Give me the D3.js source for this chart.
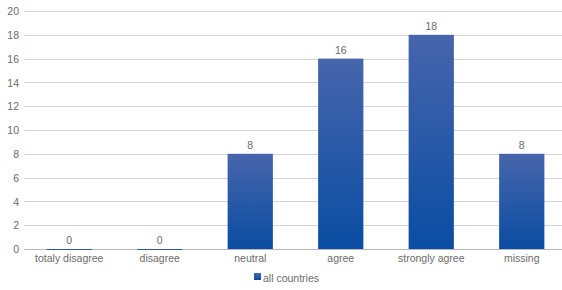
<!DOCTYPE html>
<html>
<head>
<meta charset="utf-8">
<script src="https://cdn.jsdelivr.net/npm/d3@7"></script>
<style>
  body { margin: 0; background: #fff; }
  text { font-family: "Liberation Sans", Arial, sans-serif; fill: #6b6b6b; }
</style>
</head>
<body>
<svg id="viz" width="562" height="290"></svg>
<script>
(function () {
  "use strict";

  // Chart data
  const categories = ["totaly disagree", "disagree", "neutral", "agree", "strongly agree", "missing"];
  const values = [0, 0, 8, 16, 18, 8];
  const yTicks = [0, 2, 4, 6, 8, 10, 12, 14, 16, 18, 20];
  const seriesName = "all countries";

  // Layout
  let margin = { top: 11, left: 24, right: -5, bottom: 41 };
  let fullWidth = 562, fullHeight = 290;
  let width = fullWidth - margin.left - margin.right;
  let height = fullHeight - margin.top - margin.bottom;

  let svg = d3.select("#viz");

  // Gradient for the bars
  let grad = svg.append("defs").append("linearGradient")
    .attr("id", "barGrad")
    .attr("x1", 0).attr("y1", 0).attr("x2", 0).attr("y2", 1);
  grad.append("stop").attr("offset", "0%").attr("stop-color", "#4765ac");
  grad.append("stop").attr("offset", "100%").attr("stop-color", "#0a4da2");

  let g = svg.append("g")
    .attr("transform", `translate(${margin.left} ${margin.top})`);

  // Scales
  let x = d3.scaleBand()
    .domain(categories)
    .range([0, width])
    .paddingInner(0.5)
    .paddingOuter(0.25);

  let y = d3.scaleLinear()
    .domain([0, 20])
    .range([height, 0]);

  // Grid lines
  g.append("g")
    .selectAll("line")
    .data(yTicks)
    .enter()
    .append("line")
    .attr("x1", 0)
    .attr("x2", width)
    .attr("y1", d => Math.round(y(d)) + 0.5)
    .attr("y2", d => Math.round(y(d)) + 0.5)
    .attr("stroke", d => d === 0 ? "#b8b8b8" : "#d4d4d4")
    .attr("stroke-width", 1);

  // Y axis labels
  let yAxis = g.append("g")
    .call(d3.axisLeft(y).tickValues(yTicks).tickSize(0).tickPadding(5));
  yAxis.select(".domain").remove();
  yAxis.selectAll("text")
    .style("font-size", "10.5px")
    .attr("fill", "#7a7a7a")
    .attr("dy", "0.35em");

  // Bars
  g.append("g")
    .selectAll("rect")
    .data(values)
    .enter()
    .append("rect")
    .attr("x", (d, i) => x(categories[i]))
    .attr("y", d => y(d))
    .attr("width", x.bandwidth())
    .attr("height", d => Math.max(height - y(d), 1))
    .attr("fill", "url(#barGrad)");

  // Value labels
  g.append("g")
    .selectAll("text")
    .data(values)
    .enter()
    .append("text")
    .attr("x", (d, i) => x(categories[i]) + x.bandwidth() / 2)
    .attr("y", d => y(d) - 5)
    .attr("text-anchor", "middle")
    .style("font-size", "10.5px")
    .text(d => d);

  // X axis labels
  let xAxis = g.append("g")
    .attr("transform", `translate(0,${height})`)
    .call(d3.axisBottom(x).tickSize(0).tickPadding(6));
  xAxis.select(".domain").remove();
  xAxis.selectAll("text")
    .style("font-size", "10.5px")
    .attr("fill", "#6b6b6b");

  // Legend
  let legend = svg.append("g")
    .attr("transform", `translate(254 ${fullHeight - 11})`);
  legend.append("rect")
    .attr("x", 0).attr("y", -6)
    .attr("width", 7).attr("height", 7)
    .attr("fill", "url(#barGrad)");
  legend.append("text")
    .attr("x", 9).attr("y", 0)
    .attr("dy", "0.3em")
    .style("font-size", "10.5px")
    .text(seriesName);
})();
</script>
</body>
</html>
